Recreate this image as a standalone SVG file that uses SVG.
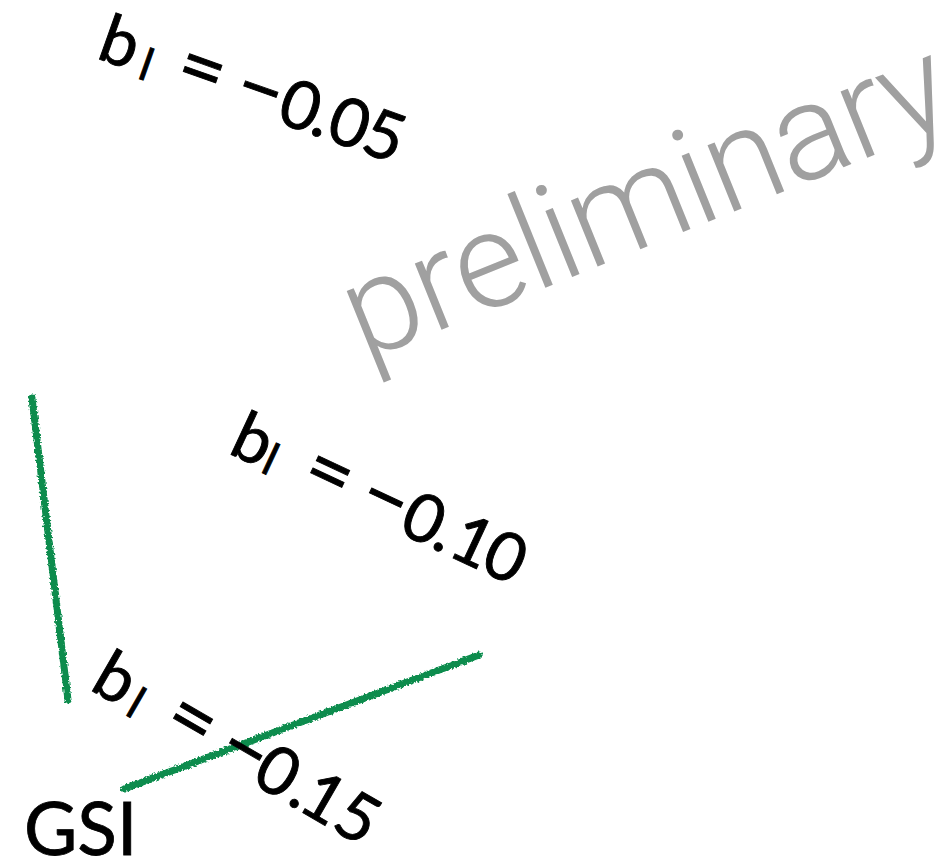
<svg xmlns="http://www.w3.org/2000/svg" width="944" height="859" viewBox="0 0 944 859">
<style>
.lbl{font-family:Lato,"Open Sans","DejaVu Sans",sans-serif;font-size:67px;fill:#000;stroke:#000;stroke-width:0.9px}
.lbl tspan{text-anchor:middle}
.sub{font-size:45px}
.op{font-size:80px}
.prelim{font-family:Roboto,Inter,"Open Sans",sans-serif;font-weight:300;font-size:135px;fill:#a0a0a0}
.gsi{font-family:Lato,"Open Sans",sans-serif;font-size:73px;fill:#000;stroke:#000;stroke-width:0.8px}
.curve{fill:none;stroke:#0b8c4e;stroke-width:7;stroke-linecap:round;filter:url(#rough)}
</style>
<defs>
<filter id="rough" filterUnits="userSpaceOnUse" x="0" y="0" width="944" height="859">
<feTurbulence type="fractalNoise" baseFrequency="0.5" numOctaves="2" seed="3" result="n"/>
<feDisplacementMap in="SourceGraphic" in2="n" scale="5" xChannelSelector="R" yChannelSelector="G"/>
</filter>
</defs>
<rect width="944" height="859" fill="#fff"/>
<g id="watermark">
<text class="prelim" transform="translate(364,361) rotate(-22)" x="0" y="0" textLength="642" lengthAdjust="spacing">preliminary</text>
</g>
<g id="curves">
<line class="curve" x1="32" y1="398" x2="68" y2="700"/>
<line class="curve" x1="124" y1="789" x2="479" y2="655"/>
</g>
<g id="label-b005" transform="translate(98,61) rotate(19.5)">
<text class="lbl"><tspan x="15" y="-2">b</tspan><tspan class="sub" x="47" y="3">l</tspan><tspan class="op" x="101" y="-1">=</tspan><tspan class="op" x="163" y="-1">−</tspan><tspan x="206" y="-2">0</tspan><tspan x="230" y="-2">.</tspan><tspan x="258" y="-2">0</tspan><tspan x="295" y="-2">5</tspan></text>
</g>
<g id="label-b010" transform="translate(232,450) rotate(25)">
<text class="lbl"><tspan x="15" y="4.5">b</tspan><tspan class="sub" x="39" y="8">l</tspan><tspan class="op" x="98" y="5">=</tspan><tspan class="op" x="160" y="5">−</tspan><tspan x="203" y="4.5">0</tspan><tspan x="228" y="4.5">.</tspan><tspan x="257" y="4.5">1</tspan><tspan x="293" y="4.5">0</tspan></text>
</g>
<g id="label-b015" transform="translate(93,688) rotate(30)">
<text class="lbl"><tspan x="15" y="3">b</tspan><tspan class="sub" x="45" y="7">l</tspan><tspan class="op" x="102" y="3.5">=</tspan><tspan class="op" x="163" y="3.5">−</tspan><tspan x="202" y="3">0</tspan><tspan x="232" y="3">.</tspan><tspan x="255" y="3">1</tspan><tspan x="294" y="3">5</tspan></text>
</g>
<g id="gsi">
<text class="gsi" x="24" y="855">GSI</text>
</g>
</svg>
